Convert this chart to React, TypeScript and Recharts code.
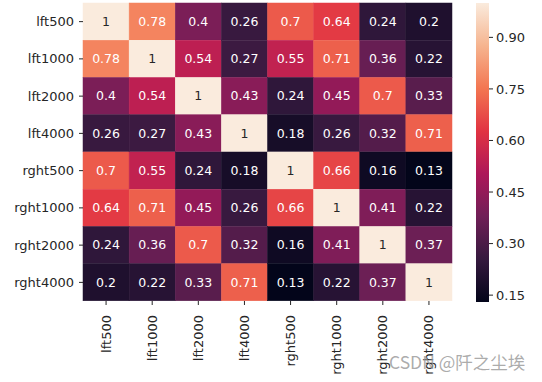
import React from 'react'
import { Bar, BarChart, XAxis, YAxis } from 'recharts'

// heatmap of pairwise correlations (seaborn "rocket" look)
const labels = ['lft500', 'lft1000', 'lft2000', 'lft4000', 'rght500', 'rght1000', 'rght2000', 'rght4000']

const lft500 = [1, 0.78, 0.4, 0.26, 0.7, 0.64, 0.24, 0.2]
const lft1000 = [0.78, 1, 0.54, 0.27, 0.55, 0.71, 0.36, 0.22]
const lft2000 = [0.4, 0.54, 1, 0.43, 0.24, 0.45, 0.7, 0.33]
const lft4000 = [0.26, 0.27, 0.43, 1, 0.18, 0.26, 0.32, 0.71]
const rght500 = [0.7, 0.55, 0.24, 0.18, 1, 0.66, 0.16, 0.13]
const rght1000 = [0.64, 0.71, 0.45, 0.26, 0.66, 1, 0.41, 0.22]
const rght2000 = [0.24, 0.36, 0.7, 0.32, 0.16, 0.41, 1, 0.37]
const rght4000 = [0.2, 0.22, 0.33, 0.71, 0.13, 0.22, 0.37, 1]

const matrix = [lft500, lft1000, lft2000, lft4000, rght500, rght1000, rght2000, rght4000]

const colorbarTicks = [0.15, 0.3, 0.45, 0.6, 0.75, 0.9]
const vmin = 0.13
const vmax = 1

const rocketStops = ['#03051a', '#35193e', '#701f57', '#ad1759', '#e13342', '#f37651', '#f6b48f', '#faebdd']

const hexToRgb = (h: string) => [1, 3, 5].map((i) => parseInt(h.slice(i, i + 2), 16))

function rocket(v: number): number[] {
  const t = Math.min(1, Math.max(0, (v - vmin) / (vmax - vmin)))
  const pos = t * (rocketStops.length - 1)
  const k = Math.min(rocketStops.length - 2, Math.floor(pos))
  const f = pos - k
  const a = hexToRgb(rocketStops[k])
  const b = hexToRgb(rocketStops[k + 1])
  return a.map((c, i) => Math.round(c + (b[i] - c) * f))
}

const rgbStr = (c: number[]) => `rgb(${c[0]},${c[1]},${c[2]})`

// same rule seaborn uses to pick the annotation colour
function luminance(c: number[]) {
  const lin = c.map((x) => {
    const s = x / 255
    return s <= 0.03928 ? s / 12.92 : Math.pow((s + 0.055) / 1.055, 2.4)
  })
  return 0.2126 * lin[0] + 0.7152 * lin[1] + 0.0722 * lin[2]
}

const rows = labels.map((name, i) => {
  const row: Record<string, string | number> = { name }
  matrix[i].forEach((v, j) => {
    row[`w${j}`] = 1
    row[`v${j}`] = v
  })
  return row
})

const colorbarData = [{ name: 'cb', range: [vmin, vmax] }]

const textColor = '#262626'

function cellShape(j: number) {
  return (p: any) => {
    const v = p.payload[`v${j}`] as number
    const c = rocket(v)
    const fill = rgbStr(c)
    return (
      <g>
        <rect x={p.x} y={p.y} width={p.width} height={p.height} fill={fill} stroke={fill} strokeWidth={0.5} />
        <text
          x={p.x + p.width / 2}
          y={p.y + p.height / 2}
          dy="0.35em"
          textAnchor="middle"
          fontSize={12.5}
          fill={luminance(c) > 0.408 ? textColor : '#ffffff'}
        >
          {String(v)}
        </text>
      </g>
    )
  }
}

function ColTick({ x, y, payload }: any) {
  return (
    <text
      x={x}
      y={y}
      transform={`rotate(-90, ${x}, ${y})`}
      textAnchor="end"
      dy="0.35em"
      fontSize={13}
      fill={textColor}
    >
      {labels[Math.floor(payload.value)]}
    </text>
  )
}

export default function App() {
  return (
    <div
      style={{
        position: 'absolute',
        left: 0,
        top: 0,
        width: 542,
        height: 382,
        background: '#fff',
        fontFamily: 'DejaVu Sans',
      }}
    >
      <div style={{ position: 'absolute', left: 0, top: 0 }}>
        <BarChart
          width={542}
          height={382}
          data={rows}
          layout="vertical"
          barCategoryGap={0}
          barGap={0}
          margin={{ top: 3, right: 90, bottom: 0, left: 0 }}
        >
          <XAxis
            type="number"
            domain={[0, labels.length]}
            ticks={labels.map((_, j) => j + 0.5)}
            interval={0}
            height={81}
            axisLine={false}
            tickSize={4}
            tickMargin={10}
            tickLine={{ stroke: textColor }}
            tick={<ColTick />}
          />
          <YAxis
            type="category"
            dataKey="name"
            width={83}
            interval={0}
            axisLine={false}
            tickSize={4}
            tickMargin={5}
            tickLine={{ stroke: textColor }}
            tick={{ fontSize: 13, fill: textColor }}
          />
          {labels.map((_, j) => (
            <Bar
              key={j}
              dataKey={`w${j}`}
              stackId="cells"
              isAnimationActive={false}
              shape={cellShape(j)}
            />
          ))}
        </BarChart>
      </div>
      <div style={{ position: 'absolute', left: 476, top: 0 }}>
        <BarChart
          width={66}
          height={382}
          data={colorbarData}
          barCategoryGap={0}
          margin={{ top: 3, right: 0, bottom: 80, left: 0 }}
        >
          <defs>
            <linearGradient id="rocketGrad" x1="0" y1="1" x2="0" y2="0">
              {rocketStops.map((c, k) => (
                <stop key={k} offset={k / (rocketStops.length - 1)} stopColor={c} />
              ))}
            </linearGradient>
          </defs>
          <XAxis dataKey="name" hide />
          <YAxis
            orientation="right"
            type="number"
            domain={[vmin, vmax]}
            allowDataOverflow
            ticks={colorbarTicks}
            interval={0}
            tickFormatter={(v: number) => v.toFixed(2)}
            width={53}
            axisLine={false}
            tickSize={4}
            tickMargin={3}
            tickLine={{ stroke: textColor }}
            tick={{ fontSize: 13, fill: textColor }}
          />
          <Bar dataKey="range" fill="url(#rocketGrad)" isAnimationActive={false} />
        </BarChart>
      </div>
      <div
        style={{
          position: 'absolute',
          left: 389,
          top: 351,
          fontSize: 17.5,
          color: 'rgba(150,150,150,0.8)',
          fontFamily: '"Noto Sans CJK SC", "DejaVu Sans"',
          whiteSpace: 'pre',
          lineHeight: '22px',
        }}
      >
        CSDN @阡之尘埃
      </div>
    </div>
  )
}
